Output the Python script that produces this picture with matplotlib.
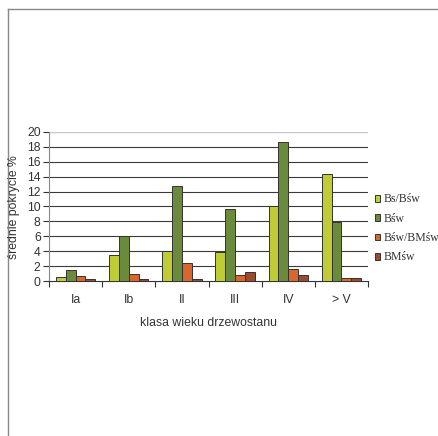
import matplotlib
matplotlib.use("Agg")
import matplotlib.pyplot as plt
import numpy as np
from matplotlib.lines import Line2D

categories = ["Ia", "Ib", "II", "III", "IV", "> V"]
series_names = ["Bs/Bśw", "Bśw", "Bśw/BMśw", "BMśw"]
bs_bsw = [0.6, 3.5, 4.0, 3.9, 10.0, 14.4]
bsw = [1.5, 6.0, 12.8, 9.7, 18.6, 7.9]
bsw_bmsw = [0.65, 1.0, 2.4, 0.9, 1.65, 0.4]
bmsw = [0.25, 0.35, 0.35, 1.2, 0.8, 0.45]
values = [bs_bsw, bsw, bsw_bmsw, bmsw]
colors = ["#bfcc35", "#6a8a3c", "#d9662b", "#9c4a2e"]
yticks = list(range(0, 21, 2))

W, H = 438, 436
fig = plt.figure(figsize=(W / 100, H / 100), dpi=100)
fig.patch.set_facecolor("white")

ax = fig.add_axes([49 / W, 1 - 281.3 / H, (368 - 49) / W, (281.3 - 131.7) / H])

FS = 8.8
x = np.arange(len(categories))
bw = 0.185
for i, (vals, c, name) in enumerate(zip(values, colors, series_names)):
    ax.bar(x + (i - 1.5) * bw, vals, width=bw, color=c, edgecolor="#333333",
           linewidth=0.7, label=name, zorder=3)

ax.set_xlim(-0.5, len(categories) - 0.5)
ax.set_ylim(0, 20)
ax.set_yticks(yticks)
ax.set_yticklabels([str(t) for t in yticks], fontsize=FS, family="Liberation Sans", color="#333333")
for t in yticks[1:-1]:
    ax.axhline(t, color="#3a3a3a", linewidth=0.8, zorder=1)
ax.axhline(20, color="#c8c8c8", linewidth=1.0, zorder=1)

ax.set_xticks(np.arange(len(categories) + 1) - 0.5, minor=False)
ax.set_xticklabels([])
ax.set_xticks(x, minor=True)
ax.set_xticklabels(categories, minor=True, fontsize=FS, family="Liberation Sans", color="#333333")
ax.tick_params(axis="x", which="minor", length=0, pad=9)
ax.tick_params(axis="x", which="major", length=4, width=0.8, color="#333333", direction="out")
ax.tick_params(axis="y", length=4, width=0.8, color="#333333", direction="out", pad=2)

for s in ["top", "right"]:
    ax.spines[s].set_visible(False)
ax.spines["left"].set_color("#888888")
ax.spines["bottom"].set_color("#333333")
ax.spines["bottom"].set_linewidth(0.8)

ax.set_xlabel("klasa wieku drzewostanu", fontsize=FS, family="Liberation Sans", color="#333333", labelpad=8)
fig.text(14.5 / W, 1 - 207 / H, "średnie pokrycie %", rotation=90, ha="center", va="center",
         fontsize=FS, family="Liberation Sans", color="#333333")

fig.legend(loc="upper left", bbox_to_anchor=(374.5 / W, 1 - 193.5 / H), frameon=False,
           prop={"family": "Liberation Serif", "size": 8.5},
           handlelength=0.5, handleheight=0.5, handletextpad=0.25,
           labelspacing=0.62, borderpad=0, borderaxespad=0, labelcolor="#333333")

# frame lines (top and left)
fig.add_artist(Line2D([8 / W, 1.0], [1 - 9 / H, 1 - 9 / H], color="#888888", linewidth=1.0))
fig.add_artist(Line2D([8 / W, 8 / W], [0, 1 - 9 / H], color="#888888", linewidth=1.0))

fig.savefig("out.png", dpi=100, facecolor="white")
